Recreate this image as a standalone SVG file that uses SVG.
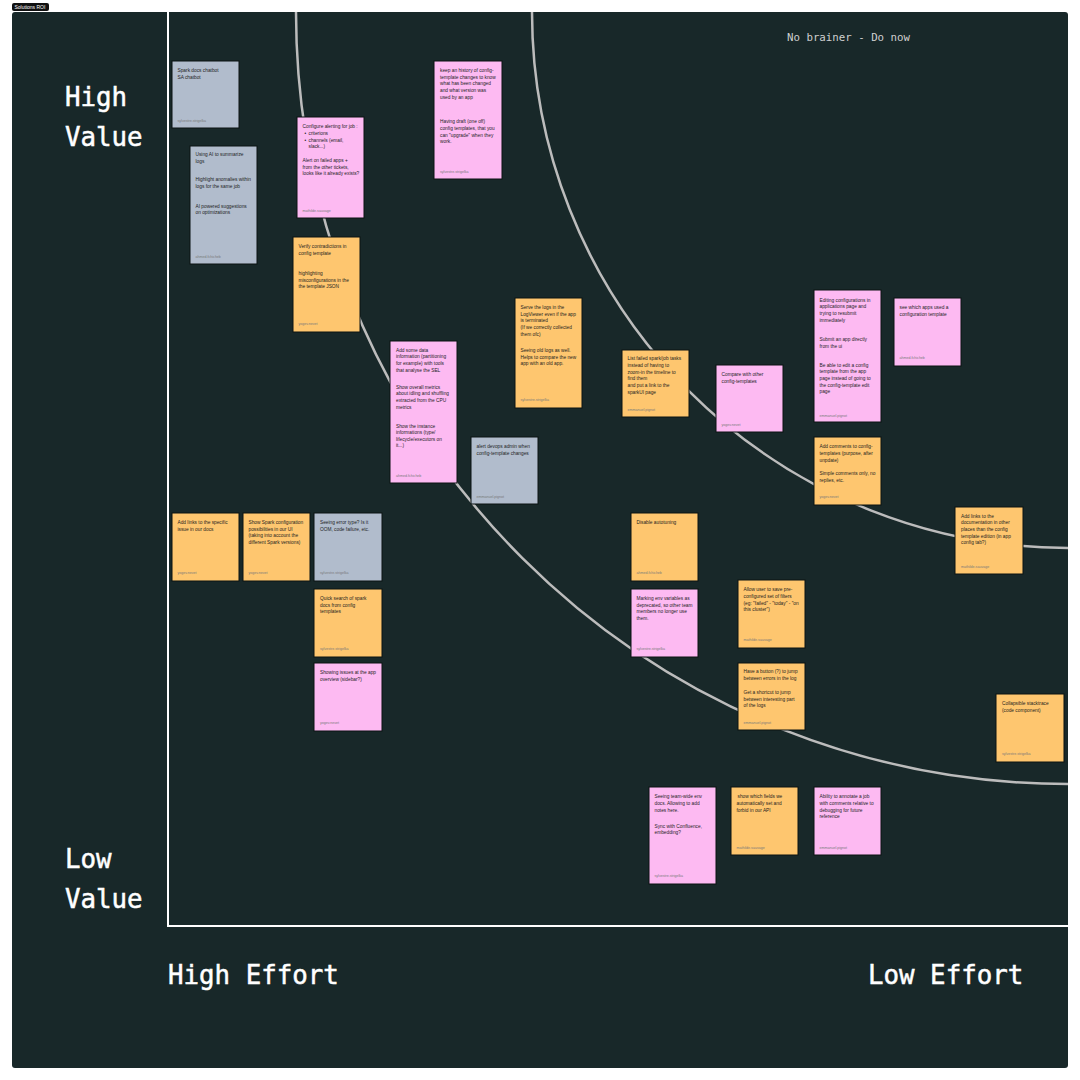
<svg xmlns="http://www.w3.org/2000/svg" width="1080" height="1080" viewBox="0 0 1080 1080">
<style>
.bg{fill:#182829}
.n{stroke:#0a1212;stroke-width:1}
.pink{fill:#fdbaf2}
.orange{fill:#fec66f}
.gray{fill:#b1bccc}
.t{font-family:"Liberation Sans",Arial,sans-serif;font-size:4.8px;fill:#1e1e1e}
.a{font-family:"Liberation Sans",Arial,sans-serif;font-size:3.6px;fill:#7a7a7a}
.big{font-family:"DejaVu Sans Mono","Liberation Mono",monospace;font-size:25.8px;fill:#ffffff;stroke:#ffffff;stroke-width:0.5}
.arc{fill:none;stroke:#bcbcbc;stroke-width:2.5}
.axis{stroke:#ffffff;stroke-width:2;fill:none}
</style>
<rect x="0" y="0" width="1080" height="1080" fill="#ffffff"/>
<g id="frame">
<rect x="12" y="3" width="37" height="8" rx="2" fill="#111111"/>
<text x="14.5" y="8.8" font-family="Liberation Sans,Arial,sans-serif" font-size="5" fill="#ffffff">Solutions ROI</text>
<rect class="bg" x="12" y="12" width="1056" height="1056" rx="3"/>
</g>
<g id="connectors">
<path class="arc" d="M296 12 A772 772 0 0 0 1068 784"/>
<path class="arc" d="M532 12 A536 536 0 0 0 1068 548"/>
<path class="axis" d="M168 12 V926 H1068"/>
</g>
<g id="labels">
<text class="big" x="65" y="106">High</text>
<text class="big" x="65" y="146">Value</text>
<text class="big" x="65" y="868">Low</text>
<text class="big" x="65" y="908">Value</text>
<text class="big" x="168" y="984">High Effort</text>
<text class="big" x="868" y="984">Low Effort</text>
<text x="787" y="41" font-family="DejaVu Sans Mono,Liberation Mono,monospace" font-size="10.75" fill="#cfcfcf">No brainer - Do now</text>
</g>
<g id="note1"><rect class="n gray" x="172" y="61" width="67" height="67"/>
<text class="t"><tspan x="177.5" y="71.7">Spark docs chatbot</tspan><tspan x="177.5" y="78.7">SA chatbot</tspan></text>
<text class="a" x="177.5" y="122">sylvestre.strigelka</text></g>
<g id="note2"><rect class="n gray" x="190" y="146" width="67" height="118"/>
<text class="t"><tspan x="195.5" y="156.4">Using AI to summarize</tspan><tspan x="195.5" y="163">logs</tspan><tspan x="195.5" y="181">Highlight anomalies within</tspan><tspan x="195.5" y="187.7">logs for the same job</tspan><tspan x="195.5" y="207.7">AI powered suggestions</tspan><tspan x="195.5" y="214.4">on optimizations</tspan></text>
<text class="a" x="195.5" y="257.7">ahmed.fchicheb</text></g>
<g id="note3"><rect class="n pink" x="297" y="117" width="67" height="101"/>
<text class="t"><tspan x="302.5" y="128.4">Configure alerting for job :</tspan><tspan x="304.5" y="135">•</tspan><tspan x="308.5" y="135">criterions</tspan><tspan x="304.5" y="142">•</tspan><tspan x="308.5" y="142">channels (email,</tspan><tspan x="308.5" y="148.4">slack...)</tspan><tspan x="302.5" y="162.4">Alert on failed apps +</tspan><tspan x="302.5" y="168.7">from the other tickets,</tspan><tspan x="302.5" y="175">looks like it already exists?</tspan></text>
<text class="a" x="302.5" y="212">mathilde.sauvage</text></g>
<g id="note4"><rect class="n orange" x="293" y="237" width="67" height="95"/>
<text class="t"><tspan x="298.5" y="248">Verify contradictions in</tspan><tspan x="298.5" y="254.7">config template</tspan><tspan x="298.5" y="275">highlighting</tspan><tspan x="298.5" y="281.7">misconfigurations in the</tspan><tspan x="298.5" y="288.4">the template JSON</tspan></text>
<text class="a" x="298.5" y="324.7">yogev.nevet</text></g>
<g id="note5"><rect class="n pink" x="434" y="61" width="68" height="118"/>
<text class="t"><tspan x="440" y="71.7">keep an history of config-</tspan><tspan x="440" y="78.7">template changes to know</tspan><tspan x="440" y="85.4">what has been changed</tspan><tspan x="440" y="92">and what version was</tspan><tspan x="440" y="99">used by an app</tspan><tspan x="440" y="123">Having draft (one off)</tspan><tspan x="440" y="129.7">config templates, that you</tspan><tspan x="440" y="136.7">can "upgrade" when they</tspan><tspan x="440" y="143.4">work.</tspan></text>
<text class="a" x="440" y="173.4">sylvestre.strigelka</text></g>
<g id="note6"><rect class="n pink" x="390" y="341" width="67" height="142"/>
<text class="t"><tspan x="396" y="351.7">Add some data</tspan><tspan x="396" y="358.4">information (partitioning</tspan><tspan x="396" y="365">for example) with tools</tspan><tspan x="396" y="372">that analyse the SEL</tspan><tspan x="396" y="388.7">Show overall metrics</tspan><tspan x="396" y="395.4">about idling and shuffling</tspan><tspan x="396" y="402">extracted from the CPU</tspan><tspan x="396" y="408.7">metrics</tspan><tspan x="396" y="427.7">Show the instance</tspan><tspan x="396" y="434.4">informations (type/</tspan><tspan x="396" y="441">lifecycle/executors on</tspan><tspan x="396" y="447.4">it...)</tspan></text>
<text class="a" x="396" y="477.4">ahmed.fchicheb</text></g>
<g id="note7"><rect class="n orange" x="515" y="298" width="67" height="110"/>
<text class="t"><tspan x="520.5" y="309">Serve the logs in the</tspan><tspan x="520.5" y="315.7">LogViewer even if the app</tspan><tspan x="520.5" y="322.4">is terminated</tspan><tspan x="520.5" y="329">(If we correctly collected</tspan><tspan x="520.5" y="335.7">them ofc)</tspan><tspan x="520.5" y="352">Seeing old logs as well.</tspan><tspan x="520.5" y="358.7">Helps to compare the new</tspan><tspan x="520.5" y="365.4">app with an old app.</tspan></text>
<text class="a" x="520.5" y="401">sylvestre.strigelka</text></g>
<g id="note8"><rect class="n gray" x="471" y="437" width="67" height="67"/>
<text class="t"><tspan x="476.5" y="448.4">alert devops admin when</tspan><tspan x="476.5" y="455.4">config-template changes</tspan></text>
<text class="a" x="476.5" y="498.4">emmanuel.pignot</text></g>
<g id="note9"><rect class="n orange" x="622" y="350" width="67" height="67"/>
<text class="t"><tspan x="627.5" y="360.4">List failed spark/job tasks</tspan><tspan x="627.5" y="367">instead of having to</tspan><tspan x="627.5" y="373.7">zoom-in the timeline to</tspan><tspan x="627.5" y="380.4">find them</tspan><tspan x="627.5" y="387">and put a link to the</tspan><tspan x="627.5" y="393.7">sparkUI page</tspan></text>
<text class="a" x="627.5" y="410.7">emmanuel.pignot</text></g>
<g id="note10"><rect class="n pink" x="716" y="365" width="67" height="67"/>
<text class="t"><tspan x="721.5" y="376">Compare with other</tspan><tspan x="721.5" y="383">config-templates</tspan></text>
<text class="a" x="721.5" y="426">yogev.nevet</text></g>
<g id="note11"><rect class="n pink" x="814" y="290" width="67" height="132"/>
<text class="t"><tspan x="819.5" y="301.7">Editing configurations in</tspan><tspan x="819.5" y="308.4">applications page and</tspan><tspan x="819.5" y="315">trying to resubmit</tspan><tspan x="819.5" y="321.7">immediately</tspan><tspan x="819.5" y="341.4">Submit an app directly</tspan><tspan x="819.5" y="348">from the ui</tspan><tspan x="819.5" y="367">Be able to edit a config</tspan><tspan x="819.5" y="373.4">template from the app</tspan><tspan x="819.5" y="380">page instead of going to</tspan><tspan x="819.5" y="386.7">the config-template edit</tspan><tspan x="819.5" y="393.4">page</tspan></text>
<text class="a" x="819.5" y="416.7">emmanuel.pignot</text></g>
<g id="note12"><rect class="n pink" x="894" y="298" width="67" height="68"/>
<text class="t"><tspan x="899.5" y="309.4">see which apps used a</tspan><tspan x="899.5" y="316">configuration template</tspan></text>
<text class="a" x="899.5" y="359.4">ahmed.fchicheb</text></g>
<g id="note13"><rect class="n orange" x="814" y="437" width="67" height="68"/>
<text class="t"><tspan x="819.5" y="448.4">Add comments to config-</tspan><tspan x="819.5" y="455">templates (purpose, after</tspan><tspan x="819.5" y="461.7">unpdate)</tspan><tspan x="819.5" y="475.4">Simple comments only, no</tspan><tspan x="819.5" y="482">replies, etc.</tspan></text>
<text class="a" x="819.5" y="498">yogev.nevet</text></g>
<g id="note14"><rect class="n orange" x="955" y="507" width="68" height="67"/>
<text class="t"><tspan x="961" y="517.7">Add links to the</tspan><tspan x="961" y="524.4">documentation in other</tspan><tspan x="961" y="531">places than the config</tspan><tspan x="961" y="537.7">template edition (in app</tspan><tspan x="961" y="544.4">config tab?)</tspan></text>
<text class="a" x="961" y="567.7">mathilde.sauvage</text></g>
<g id="note15"><rect class="n orange" x="996" y="694" width="68" height="68"/>
<text class="t"><tspan x="1002" y="705">Collapsible stacktrace</tspan><tspan x="1002" y="711.7">(code component)</tspan></text>
<text class="a" x="1002" y="755">sylvestre.strigelka</text></g>
<g id="note16"><rect class="n orange" x="172" y="513" width="67" height="68"/>
<text class="t"><tspan x="177.5" y="524">Add links to the specific</tspan><tspan x="177.5" y="530.7">issue in our docs</tspan></text>
<text class="a" x="177.5" y="574">yogev.nevet</text></g>
<g id="note17"><rect class="n orange" x="243" y="513" width="67" height="68"/>
<text class="t"><tspan x="248.5" y="524">Show Spark configuration</tspan><tspan x="248.5" y="530.7">possibilities in our UI</tspan><tspan x="248.5" y="537.4">(taking into account the</tspan><tspan x="248.5" y="544">different Spark versions)</tspan></text>
<text class="a" x="248.5" y="574">yogev.nevet</text></g>
<g id="note18"><rect class="n gray" x="314" y="513" width="68" height="68"/>
<text class="t"><tspan x="320" y="524">Seeing error type? Is it</tspan><tspan x="320" y="530.7">OOM, code failure, etc.</tspan></text>
<text class="a" x="320" y="574">sylvestre.strigelka</text></g>
<g id="note19"><rect class="n orange" x="314" y="589" width="68" height="68"/>
<text class="t"><tspan x="320" y="600">Quick search of spark</tspan><tspan x="320" y="606.7">docs from config</tspan><tspan x="320" y="613.4">templates</tspan></text>
<text class="a" x="320" y="650">sylvestre.strigelka</text></g>
<g id="note20"><rect class="n pink" x="314" y="663" width="68" height="68"/>
<text class="t"><tspan x="320" y="674">Showing issues at the app</tspan><tspan x="320" y="680.7">overview (sidebar?)</tspan></text>
<text class="a" x="320" y="724">yogev.nevet</text></g>
<g id="note21"><rect class="n orange" x="631" y="513" width="67" height="68"/>
<text class="t"><tspan x="636.5" y="524">Disable autotuning</tspan></text>
<text class="a" x="636.5" y="574">ahmed.fchicheb</text></g>
<g id="note22"><rect class="n pink" x="631" y="589" width="67" height="68"/>
<text class="t"><tspan x="636.5" y="600">Marking env variables as</tspan><tspan x="636.5" y="606.7">deprecated, so other team</tspan><tspan x="636.5" y="613.4">members no longer use</tspan><tspan x="636.5" y="620">them.</tspan></text>
<text class="a" x="636.5" y="650">sylvestre.strigelka</text></g>
<g id="note23"><rect class="n orange" x="738" y="580" width="67" height="68"/>
<text class="t"><tspan x="743.5" y="591">Allow user to save pre-</tspan><tspan x="743.5" y="597.7">configured set of filters</tspan><tspan x="743.5" y="604.7">(eg: "failed" - "today" - "on</tspan><tspan x="743.5" y="611.4">this cluster")</tspan></text>
<text class="a" x="743.5" y="641">mathilde.sauvage</text></g>
<g id="note24"><rect class="n orange" x="738" y="663" width="67" height="67"/>
<text class="t"><tspan x="743.5" y="673.4">Have a button (?) to jump</tspan><tspan x="743.5" y="680.4">between errors in the log</tspan><tspan x="743.5" y="694">Get a shortcut to jump</tspan><tspan x="743.5" y="700.7">between interesting part</tspan><tspan x="743.5" y="707.4">of the logs</tspan></text>
<text class="a" x="743.5" y="723.7">emmanuel.pignot</text></g>
<g id="note25"><rect class="n pink" x="649" y="787" width="67" height="97"/>
<text class="t"><tspan x="654.5" y="798.4">Seeing team-wide env</tspan><tspan x="654.5" y="805">docs. Allowing to add</tspan><tspan x="654.5" y="811.7">notes here.</tspan><tspan x="654.5" y="827.7">Sync with Confluence,</tspan><tspan x="654.5" y="834.4">embedding?</tspan></text>
<text class="a" x="654.5" y="877.4">sylvestre.strigelka</text></g>
<g id="note26"><rect class="n orange" x="731" y="787" width="67" height="68"/>
<text class="t"><tspan x="737.5" y="798.4">show which fields we</tspan><tspan x="736.5" y="805">automatically set and</tspan><tspan x="736.5" y="811.7">forbid in our API</tspan></text>
<text class="a" x="736.5" y="848.7">mathilde.sauvage</text></g>
<g id="note27"><rect class="n pink" x="814" y="787" width="67" height="68"/>
<text class="t"><tspan x="819.5" y="798.4">Ability to annotate a job</tspan><tspan x="819.5" y="805">with comments relative to</tspan><tspan x="819.5" y="811.7">debugging for future</tspan><tspan x="819.5" y="818.4">reference</tspan></text>
<text class="a" x="819.5" y="848.7">emmanuel.pignot</text></g>
</svg>
